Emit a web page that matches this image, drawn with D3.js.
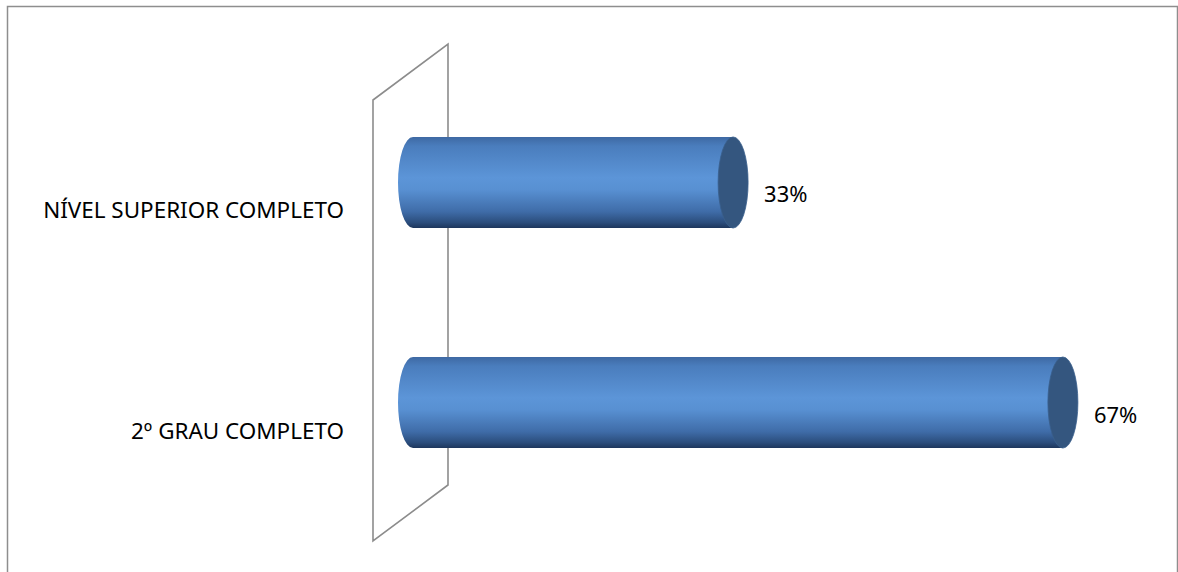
<!DOCTYPE html>
<html>
<head>
<meta charset="utf-8">
<script src="https://cdn.jsdelivr.net/npm/d3@7/dist/d3.min.js"></script>
<style>
  html, body { margin: 0; padding: 0; background: #ffffff; }
  svg { display: block; }
  text { font-family: "Noto Sans", "Open Sans", sans-serif; fill: #000; }
</style>
</head>
<body>
<svg id="chart" width="1178" height="572"></svg>
<script>
// Education level distribution
const categories = ["NÍVEL SUPERIOR COMPLETO", "2º GRAU COMPLETO"];
const values = [33, 67];
const valueLabels = ["33%", "67%"];

const W = 1178, H = 572;
const svg = d3.select("#chart");

// outer chart frame
svg.append("rect")
  .attr("x", 7.5).attr("y", 6.5)
  .attr("width", 1170).attr("height", 580)
  .attr("fill", "#fff")
  .attr("stroke", "#8e8e8e")
  .attr("stroke-width", 1.5);

const x = d3.scaleLinear().domain([0, 80]).range([413, 1189]);
const y = d3.scaleBand().domain(categories).range([8, 577]).padding(0.586);

// gradient for the cylinder body
const defs = svg.append("defs");
const grad = defs.append("linearGradient")
  .attr("id", "cyl").attr("x1", 0).attr("y1", 0).attr("x2", 0).attr("y2", 1);
[
  [0.00, "#3e69a3"],
  [0.10, "#4a7dbd"],
  [0.45, "#5c95d8"],
  [0.58, "#5890d2"],
  [0.82, "#3f6ca8"],
  [0.94, "#2b4d7c"],
  [1.00, "#1d365c"]
].forEach(([o, c]) => grad.append("stop").attr("offset", o).attr("stop-color", c));

// back wall (3D perspective plane)
const wall = [[373, 100], [448, 44], [448, 485], [373, 541]];
svg.append("path")
  .attr("d", d3.line()(wall) + "Z")
  .attr("fill", "none")
  .attr("stroke", "#8c8c8c")
  .attr("stroke-width", 1.6);

const rx = 15;
const bars = svg.append("g").selectAll("g")
  .data(categories.map((c, i) => ({ c, v: values[i], label: valueLabels[i] })))
  .join("g");

// cylinder body with rounded left end
bars.append("path")
  .attr("d", d => {
    const x0 = x(0), x1 = x(d.v), t = y(d.c), b = t + y.bandwidth(), ry = y.bandwidth() / 2;
    return `M${x0},${t} L${x1},${t} L${x1},${b} L${x0},${b} A${rx},${ry} 0 0 1 ${x0},${t} Z`;
  })
  .attr("fill", "url(#cyl)");

// flat end cap
bars.append("ellipse")
  .attr("cx", d => x(d.v))
  .attr("cy", d => y(d.c) + y.bandwidth() / 2)
  .attr("rx", rx)
  .attr("ry", y.bandwidth() / 2)
  .attr("fill", "#34567f")
  .attr("stroke", "#3a5f8d")
  .attr("stroke-width", 0.8);

// value labels
bars.append("text")
  .attr("x", d => x(d.v) + 31)
  .attr("y", d => y(d.c) + y.bandwidth() / 2 + 20)
  .attr("font-size", 21.5)
  .text(d => d.label);

// category labels
svg.append("g").selectAll("text")
  .data(categories)
  .join("text")
  .attr("x", 344)
  .attr("y", d => y(d) + y.bandwidth() / 2 + 36)
  .attr("text-anchor", "end")
  .attr("font-size", 22)
  .text(d => d);

// slight width tuning of the glyph runs
svg.selectAll("text").each(function () {
  const len = this.getComputedTextLength();
  d3.select(this).attr("textLength", len * 1.02).attr("lengthAdjust", "spacingAndGlyphs");
});
</script>
</body>
</html>
